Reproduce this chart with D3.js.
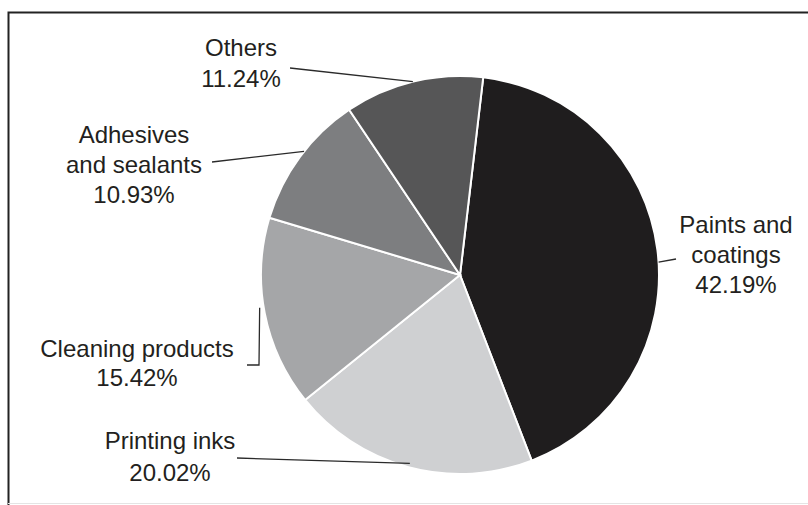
<!DOCTYPE html>
<html>
<head>
<meta charset="utf-8">
<script src="https://cdn.jsdelivr.net/npm/d3@7"></script>
<style>
  body { margin: 0; background: #fff; }
  svg { display: block; }
</style>
</head>
<body>
<svg id="chart" width="808" height="505"></svg>
<script>
// data, clockwise from the top
const categories = ["Paints and coatings", "Printing inks", "Cleaning products", "Adhesives and sealants", "Others"];
const shares = [42.19, 20.02, 15.42, 10.93, 11.24];
const labelLines = [
  ["Paints and", "coatings", "42.19%"],
  ["Printing inks", "20.02%"],
  ["Cleaning products", "15.42%"],
  ["Adhesives", "and sealants", "10.93%"],
  ["Others", "11.24%"]
];
const fills = ["#1f1d1e", "#cfd0d2", "#a5a6a8", "#7d7e80", "#565657"];

const svg = d3.select("#chart"),
  cx = 460,
  cy = 275,
  r = 199,
  deg = Math.PI / 180;

// frame (open on the right and bottom)
svg.append("path")
  .attr("d", "M8.5,505V12.5H808")
  .attr("fill", "none")
  .attr("stroke", "#222")
  .attr("stroke-width", 2);
svg.append("line")
  .attr("x1", 8).attr("x2", 808)
  .attr("y1", 503.5).attr("y2", 503.5)
  .attr("stroke", "#e4e4e4");

const pie = d3.pie().sort(null).value(d => d)
  .startAngle(6.7 * deg)
  .endAngle(6.7 * deg + 2 * Math.PI);
const arc = d3.arc().innerRadius(0).outerRadius(r);

const g = svg.append("g").attr("transform", `translate(${cx},${cy})`);
g.selectAll("path")
  .data(pie(shares))
  .join("path")
  .attr("d", arc)
  .attr("fill", (d, i) => fills[i])
  .attr("stroke", "#fff")
  .attr("stroke-width", 2);

// label placement: centre x, first baseline, line gap, leader start, leader angle on the rim
const labelPos = [
  { x: 736, y: 233, gap: 30, from: [[676, 259]], angle: 86.3, rr: r },
  { x: 170, y: 449, gap: 32, from: [[237, 458]], angle: 194.9, rr: r - 4 },
  { x: 137, y: 357, gap: 29, from: [[247, 365], [259, 365]], angle: 260.7, rr: r + 4 },
  { x: 134, y: 143, gap: 30, from: [[212, 162]], angle: 308.4, rr: r },
  { x: 241, y: 56, gap: 31, from: [[290, 68]], angle: 346.3, rr: r }
];

const rim = (a, rr) => [cx + rr * Math.sin(a * deg), cy - rr * Math.cos(a * deg)];

svg.selectAll(".leader")
  .data(labelPos)
  .join("path")
  .attr("class", "leader")
  .attr("d", d => d3.line()(d.from.concat([rim(d.angle, d.rr)])))
  .attr("fill", "none")
  .attr("stroke", "#2a2a2a")
  .attr("stroke-width", 1.3);

svg.selectAll(".label")
  .data(labelLines)
  .join("text")
  .attr("class", "label")
  .attr("text-anchor", "middle")
  .attr("font-family", "'Liberation Sans', Arial, sans-serif")
  .attr("font-size", 24)
  .attr("fill", "#231f20")
  .each(function (lines, i) {
    const p = labelPos[i];
    d3.select(this).selectAll("tspan")
      .data(lines)
      .join("tspan")
      .attr("x", p.x)
      .attr("y", (t, j) => p.y + j * p.gap)
      .text(t => t);
  });
</script>
</body>
</html>
